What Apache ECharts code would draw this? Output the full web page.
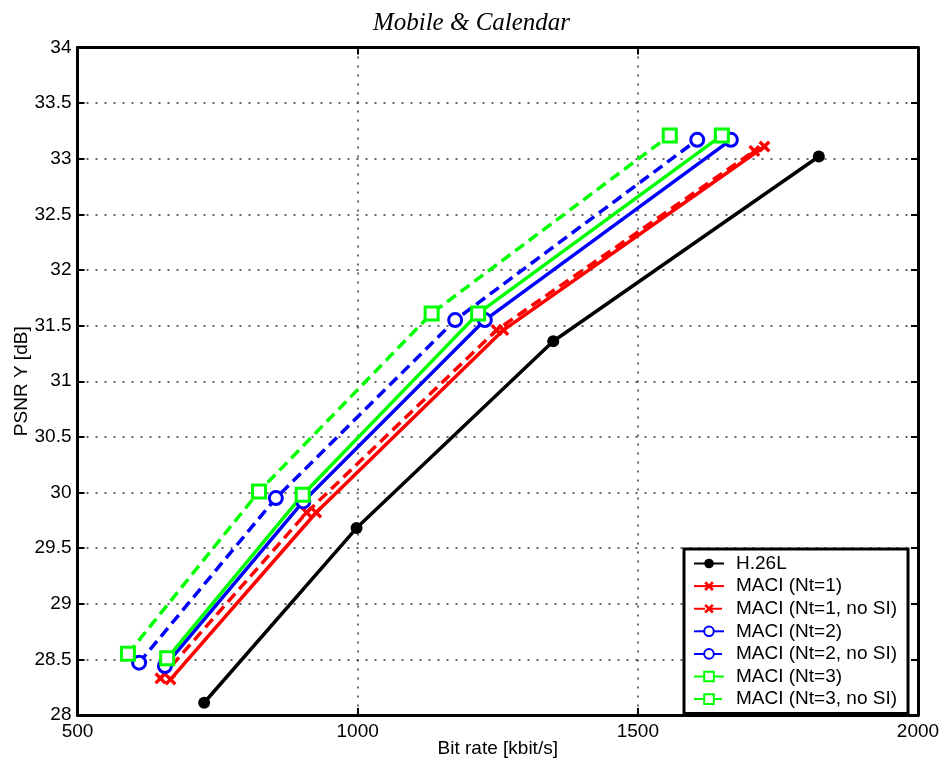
<!DOCTYPE html>
<html>
<head>
<meta charset="utf-8">
<script src="https://cdn.jsdelivr.net/npm/echarts@6/dist/echarts.min.js"></script>
<style>html,body{margin:0;padding:0;background:#fff}#c{width:943px;height:765px}</style>
</head>
<body>
<div id="c"></div>
<script>
// ---- data ----
const seriesNames = ['H.26L','MACI (Nt=1)','MACI (Nt=1, no SI)','MACI (Nt=2)','MACI (Nt=2, no SI)','MACI (Nt=3)','MACI (Nt=3, no SI)'];
const rateH26L   = [726, 998, 1349, 1823];
const psnrH26L   = [28.11, 29.68, 31.36, 33.02];
const rateNt1    = [666, 926, 1260, 1726];
const psnrNt1    = [28.32, 29.82, 31.46, 33.11];
const rateNt1NoSI = [648, 909, 1248, 1708];
const psnrNt1NoSI = [28.33, 29.82, 31.46, 33.07];
const rateNt2    = [656, 903, 1227, 1666];
const psnrNt2    = [28.44, 29.92, 31.55, 33.17];
const rateNt2NoSI = [610, 854, 1174, 1606];
const psnrNt2NoSI = [28.47, 29.95, 31.55, 33.17];
const rateNt3    = [660, 902, 1215, 1650];
const psnrNt3    = [28.51, 29.98, 31.61, 33.21];
const rateNt3NoSI = [590, 824, 1132, 1557];
const psnrNt3NoSI = [28.55, 30.01, 31.61, 33.21];
const xTicks = {min: 500, max: 2000, step: 500};
const yTicks = {min: 28, max: 34, step: 0.5};
const titleText = 'Mobile & Calendar';
const xName = 'Bit rate [kbit/s]';
const yName = 'PSNR Y [dB]';

const zip = (a, b) => a.map((v, i) => [v, b[i]]);
const FONT = '"Liberation Sans", Arial, sans-serif';
const FS = 19;
const xMark = 'path://M2,0 L5,3 L8,0 L10,2 L7,5 L10,8 L8,10 L5,7 L2,10 L0,8 L3,5 L0,2 Z';
const DASH = [11, 6];

function mk(name, rate, psnr, color, dashed, symbol, size, empty) {
  return {
    name, type: 'line', data: zip(rate, psnr),
    xAxisIndex: 0, yAxisIndex: 0,
    symbol, symbolSize: size, showAllSymbol: true,
    lineStyle: {color, width: 3.5, type: dashed ? DASH : 'solid'},
    itemStyle: empty ? {color: '#fff', borderColor: color, borderWidth: 3} : {color, borderColor: color, borderWidth: 0},
    emphasis: {disabled: true}, animation: false
  };
}

const chart = echarts.init(document.getElementById('c'), null, {renderer: 'canvas'});
const axisCommon = {
  axisLine: {show: true, onZero: false, lineStyle: {color: '#000', width: 3}},
  axisTick: {show: true, inside: true, length: 7, lineStyle: {color: '#000', width: 2}},
};
chart.setOption({
  backgroundColor: '#fff',
  animation: false,
  title: {text: titleText, left: 'center', top: 6,
    textStyle: {fontFamily: '"Liberation Serif", "Times New Roman", serif', fontStyle: 'italic', fontWeight: 'normal', fontSize: 25, color: '#000'}},
  grid: {left: 77.5, right: 25, top: 47.5, bottom: 50, containLabel: false, outerBoundsMode: 'none'},
  legend: {
    data: seriesNames, orient: 'vertical', left: 684, top: 549,
    itemWidth: 30, itemHeight: 12, itemGap: 3.6,
    padding: [5, 11, 5, 9],
    backgroundColor: '#fff', borderColor: '#000', borderWidth: 3,
    textStyle: {fontFamily: FONT, fontSize: FS, color: '#000', lineHeight: 18, padding: [0, 0, 0, 7]},
    selectedMode: false
  },
  xAxis: [
    Object.assign({type: 'value', position: 'bottom', min: xTicks.min, max: xTicks.max, interval: xTicks.step,
      name: xName, nameLocation: 'middle', nameGap: 24, nameMoveOverlap: false,
      nameTextStyle: {fontFamily: FONT, fontSize: FS, color: '#000'},
      axisLabel: {fontFamily: FONT, fontSize: FS, color: '#000', margin: 7, formatter: v => String(v)},
      splitLine: {show: true, lineStyle: {color: '#333', width: 1.5, type: [2, 7]}}}, axisCommon),
    Object.assign({type: 'value', position: 'top', min: xTicks.min, max: xTicks.max, interval: xTicks.step,
      axisLabel: {show: false}, splitLine: {show: false}}, axisCommon)
  ],
  yAxis: [
    Object.assign({type: 'value', position: 'left', min: yTicks.min, max: yTicks.max, interval: yTicks.step,
      name: yName, nameLocation: 'middle', nameGap: 46, nameMoveOverlap: false,
      nameTextStyle: {fontFamily: FONT, fontSize: FS, color: '#000'},
      axisLabel: {fontFamily: FONT, fontSize: FS, color: '#000', margin: 6, formatter: v => String(v)},
      splitLine: {show: true, lineStyle: {color: '#333', width: 1.5, type: [2, 7]}}}, axisCommon),
    Object.assign({type: 'value', position: 'right', min: yTicks.min, max: yTicks.max, interval: yTicks.step,
      axisLabel: {show: false}, splitLine: {show: false}}, axisCommon)
  ],
  series: [
    mk(seriesNames[0], rateH26L, psnrH26L, '#000000', false, 'circle', 12, false),
    mk(seriesNames[1], rateNt1, psnrNt1, '#ff0000', false, xMark, 12, false),
    mk(seriesNames[2], rateNt1NoSI, psnrNt1NoSI, '#ff0000', true, xMark, 12, false),
    mk(seriesNames[3], rateNt2, psnrNt2, '#0000ff', false, 'circle', 13, true),
    mk(seriesNames[4], rateNt2NoSI, psnrNt2NoSI, '#0000ff', true, 'circle', 13, true),
    mk(seriesNames[5], rateNt3, psnrNt3, '#00ff00', false, 'rect', 13, true),
    mk(seriesNames[6], rateNt3NoSI, psnrNt3NoSI, '#00ff00', true, 'rect', 13, true)
  ]
});
</script>
</body>
</html>
